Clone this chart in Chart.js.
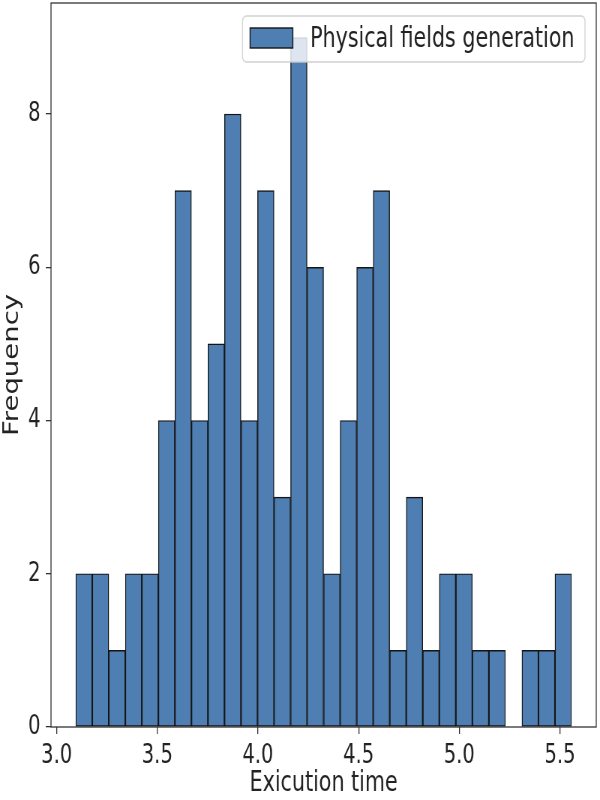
<!DOCTYPE html>
<html>
<head>
<meta charset="utf-8">
<script src="https://cdn.jsdelivr.net/npm/chart.js@4.4.1/dist/chart.umd.min.js"></script>
<style>
  html, body { margin: 0; padding: 0; background: #fff; overflow: hidden; }
  /* the reference is a square figure stretched to 600x800, so draw at 800 wide and squash */
  #wrap { width: 800px; height: 800px; transform: scaleX(0.75); transform-origin: 0 0; }
</style>
</head>
<body>
<div id="wrap"><canvas id="histChart"></canvas></div>
<script>
// histogram: 30 equal bins between the smallest and largest run
var binStart = 3.095
var binEnd = 5.557
var counts = [2, 2, 1, 2, 2, 4, 7, 4, 5, 8, 4, 7, 3, 9, 6, 2, 4, 6, 7, 1, 3, 1, 2, 2, 1, 1, 0, 1, 1, 2]
var xTicks = [3.0, 3.5, 4.0, 4.5, 5.0, 5.5]
var yTicks = [0, 2, 4, 6, 8]
var seriesLabel = 'Physical fields generation'

var barColor = 'rgb(79, 127, 178)'
var textColor = '#222'

var binWidth = (binEnd - binStart) / counts.length
var points = counts.map(function(c, i){
    return { x: binStart + (i + 0.5) * binWidth, y: c }
})

Chart.defaults.font.family = 'DejaVu Sans'
Chart.defaults.color = textColor

// full box round the plot, like matplotlib spines
const frame = {
    id: 'frame',
    afterDatasetsDraw: (chart) => {
        const ctx = chart.ctx
        const a = chart.chartArea
        ctx.save()
        ctx.strokeStyle = '#333'
        ctx.lineWidth = 1.3
        ctx.strokeRect(a.left, a.top, a.right - a.left, a.bottom - a.top)
        ctx.restore()
    }
}

// legend box on top of the bars, semi transparent
const boxLegend = {
    id: 'boxLegend',
    afterDraw: (chart) => {
        const ctx = chart.ctx
        const a = chart.chartArea
        const ds = chart.data.datasets[0]
        ctx.save()
        ctx.font = '27.5px "DejaVu Sans"'
        const tw = ctx.measureText(ds.label).width
        const right = a.right - 15
        const top = a.top + 13
        const h = 46
        const w = 10 + 57 + 23 + tw + 14
        const left = right - w
        ctx.beginPath()
        ctx.roundRect(left, top, w, h, 5)
        ctx.fillStyle = 'rgba(255,255,255,0.8)'
        ctx.fill()
        ctx.strokeStyle = 'rgba(204,204,204,0.9)'
        ctx.lineWidth = 1.3
        ctx.stroke()
        ctx.fillStyle = ds.backgroundColor
        ctx.fillRect(left + 10, top + 12, 57, 20)
        ctx.strokeStyle = ds.borderColor
        ctx.lineWidth = 1.4
        ctx.strokeRect(left + 10, top + 12, 57, 20)
        ctx.fillStyle = textColor
        ctx.textBaseline = 'alphabetic'
        ctx.fillText(ds.label, left + 10 + 57 + 23, top + 31)
        ctx.restore()
    }
}

const config = {
    type: 'bar',
    data: {
        datasets: [{
            label: seriesLabel,
            data: points,
            backgroundColor: barColor,
            borderColor: '#151515',
            borderWidth: 1.4,
            borderSkipped: false,
            barPercentage: 1.0,
            categoryPercentage: 1.0,
            grouped: false
        }]
    },
    options: {
        responsive: true,
        maintainAspectRatio: false,
        animation: false,
        layout: { padding: { top: 3, right: 5, left: 0, bottom: 0 } },
        plugins: {
            legend: { display: false },
            tooltip: { enabled: false }
        },
        scales: {
            x: {
                type: 'linear',
                min: 2.972,
                max: 5.680,
                offset: false,
                afterBuildTicks: (s) => { s.ticks = xTicks.map(v => ({ value: v })) },
                afterFit: (s) => { s.height = 73; s.paddingLeft = 0; s.paddingRight = 0 },
                ticks: {
                    font: { size: 26 },
                    padding: 7,
                    maxRotation: 0,
                    autoSkip: false,
                    callback: (v) => Number(v).toFixed(1)
                },
                grid: { offset: false, drawOnChartArea: false, drawTicks: true, tickLength: 7, color: '#333', lineWidth: 1.3 },
                border: { display: false },
                title: { display: true, text: 'Exicution time', font: { size: 27.5 }, padding: 0 }
            },
            y: {
                min: 0,
                max: 9.45,
                afterBuildTicks: (s) => { s.ticks = yTicks.map(v => ({ value: v })) },
                afterFit: (s) => { s.width = 68; s.paddingTop = 0; s.paddingBottom = 0 },
                ticks: { font: { size: 26 }, padding: 7 },
                grid: { drawOnChartArea: false, drawTicks: true, tickLength: 7, color: '#333', lineWidth: 1.3 },
                border: { display: false },
                title: { display: true, text: 'Frequency', font: { size: 27.5 }, padding: 0 }
            }
        }
    },
    plugins: [frame, boxLegend]
}

const histChart = new Chart(document.getElementById('histChart'), config)
</script>
</body>
</html>
